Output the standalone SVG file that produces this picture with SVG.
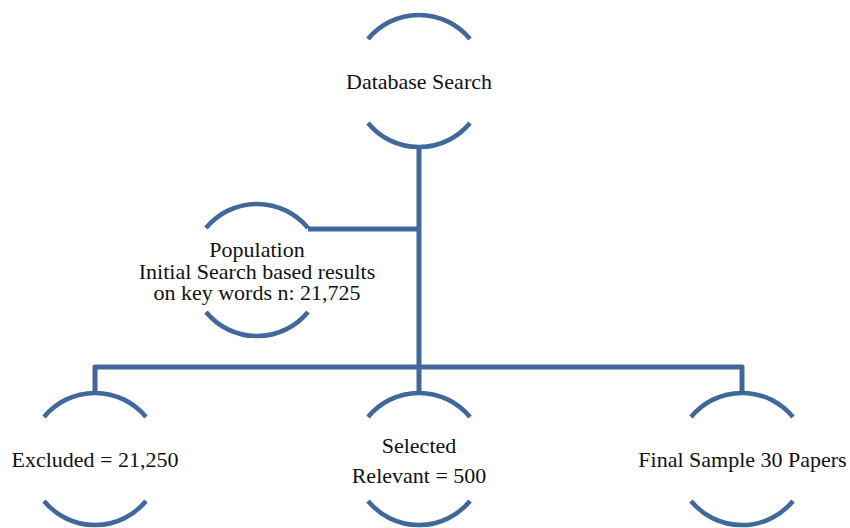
<svg xmlns="http://www.w3.org/2000/svg" width="850" height="528" viewBox="0 0 850 528">
<style>
.arc{fill:none;stroke:#41689A;stroke-width:4.5;stroke-linecap:butt}
.con{fill:none;stroke:#41689A;stroke-width:5;stroke-linejoin:round}
text{font-family:"Liberation Serif","DejaVu Serif",serif;font-size:22px;fill:#111;text-anchor:middle}
</style>
<rect width="850" height="528" fill="#fff"/>
<g id="connectors">
<path class="con" d="M419,147 V367"/>
<path class="con" d="M308,229 H419"/>
<path class="con" d="M95,393 V367 H742 V393"/>
<path class="con" d="M419,367 V393"/>
</g>
<g id="database-search">
<path class="arc" d="M368,39 A66,66 0 0 1 470,39"/>
<path class="arc" d="M368,123 A66,66 0 0 0 470,123"/>
<text x="419" y="89">Database Search</text>
</g>
<g id="population">
<path class="arc" d="M206,228 A66,66 0 0 1 308,228"/>
<path class="arc" d="M206,312 A66,66 0 0 0 308,312"/>
<text x="257" y="257">Population</text>
<text x="257" y="278.5">Initial Search based results</text>
<text x="257" y="300">on key words n: 21,725</text>
</g>
<g id="excluded">
<path class="arc" d="M44,417 A66,66 0 0 1 146,417"/>
<path class="arc" d="M44,501 A66,66 0 0 0 146,501"/>
<text x="95" y="467">Excluded = 21,250</text>
</g>
<g id="selected">
<path class="arc" d="M368,417 A66,66 0 0 1 470,417"/>
<path class="arc" d="M368,501 A66,66 0 0 0 470,501"/>
<text x="419" y="453">Selected</text>
<text x="419" y="483">Relevant = 500</text>
</g>
<g id="final-sample">
<path class="arc" d="M691,417 A66,66 0 0 1 793,417"/>
<path class="arc" d="M691,501 A66,66 0 0 0 793,501"/>
<text x="742.5" y="467">Final Sample 30 Papers</text>
</g>
</svg>
